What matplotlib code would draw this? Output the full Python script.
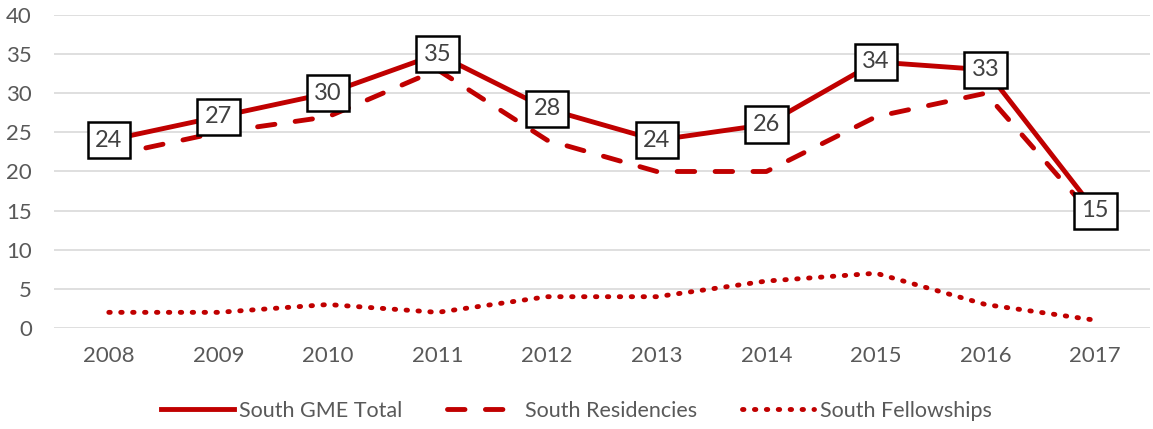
import matplotlib
matplotlib.use("Agg")
import matplotlib.pyplot as plt

years = ["2008", "2009", "2010", "2011", "2012", "2013", "2014", "2015", "2016", "2017"]
gme_total = [24, 27, 30, 35, 28, 24, 26, 34, 33, 15]
residencies = [22, 25, 27, 33, 24, 20, 20, 27, 30, 14]
fellowships = [2, 2, 3, 2, 4, 4, 6, 7, 3, 1]

plt.rcParams['font.family'] = ['Lato', 'DejaVu Sans']
RED = "#C00000"
GRAY = "#595959"

fig = plt.figure(figsize=(11.53, 4.29), dpi=100)
ax = fig.add_axes([54/1153, 1-328/429, (1150-54)/1153, (328-15)/429])

x = list(range(len(years)))
ax.plot(x, fellowships, color=RED, lw=3.5, linestyle=(0, (0.3, 2.15)), dash_capstyle='round',
        label="South Fellowships", zorder=3)
ax.plot(x, residencies, color=RED, lw=3.5, linestyle=(0, (3.6, 4.2)), dash_capstyle='round',
        label="South Residencies", zorder=3)
ax.plot(x, gme_total, color=RED, lw=3.5, linestyle='-', label="South GME Total", zorder=4)

for xi, v in zip(x, gme_total):
    ax.annotate(str(v), (xi, v), ha='center', va='center', fontsize=17, color="#404040",
                bbox=dict(boxstyle='square,pad=0.32', fc='white', ec='black', lw=1.8), zorder=5)

ax.set_xlim(-0.5, len(years) - 0.5)
ax.set_ylim(0, 40)
ax.set_yticks(range(0, 41, 5))
ax.set_xticks(x)
ax.set_xticklabels(years)
ax.tick_params(axis='both', length=0, labelsize=16, colors=GRAY)
ax.tick_params(axis='x', pad=13)
ax.tick_params(axis='y', pad=16)
ax.grid(axis='y', color="#D9D9D9", lw=1.2)
ax.set_axisbelow(True)
for s in ax.spines.values():
    s.set_visible(False)

h, l = ax.get_legend_handles_labels()
order = [2, 1, 0]
leg = fig.legend([h[i] for i in order], [l[i] for i in order], loc='center',
                 bbox_to_anchor=(0.5, 1-411/429), ncol=3, frameon=False, fontsize=15.5,
                 handlelength=3.35, columnspacing=2.1, handletextpad=0.25)
for t in leg.get_texts():
    t.set_color(GRAY)

fig.savefig("out.png", dpi=100)
